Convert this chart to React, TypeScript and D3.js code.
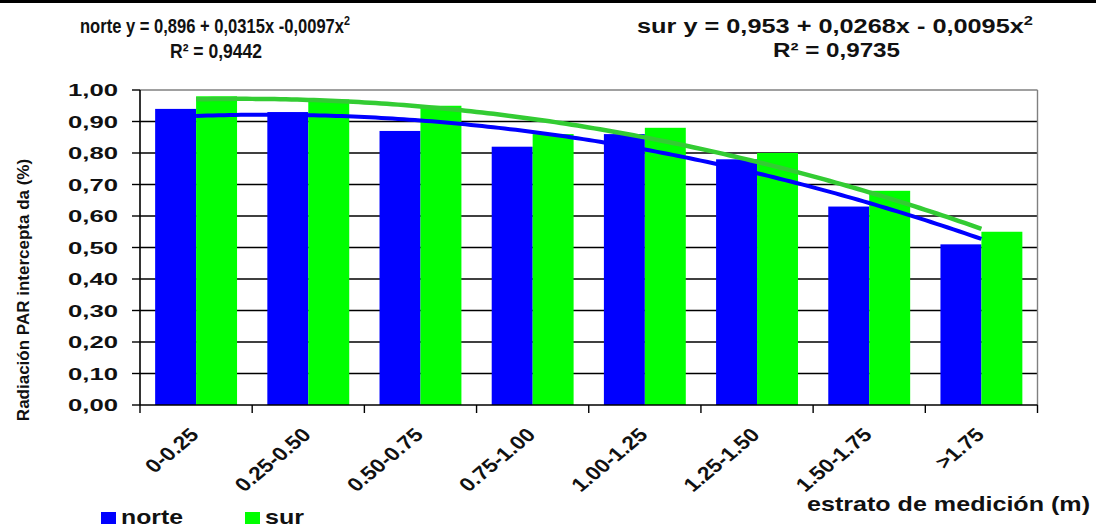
import React from "react";
import * as d3 from "d3";

const categories = ["0-0.25", "0.25-0.50", "0.50-0.75", "0.75-1.00", "1.00-1.25", "1.25-1.50", "1.50-1.75", ">1.75"];
const norte = [0.94, 0.93, 0.87, 0.82, 0.86, 0.78, 0.63, 0.51];
const sur = [0.98, 0.97, 0.95, 0.86, 0.88, 0.8, 0.68, 0.55];
const norteCoef = [0.896, 0.0315, -0.0097];
const surCoef = [0.953, 0.0268, -0.0095];
const yTicks = [0, 0.1, 0.2, 0.3, 0.4, 0.5, 0.6, 0.7, 0.8, 0.9, 1.0];
const seriesNames = ["norte", "sur"];
const seriesColors = ["#0000ff", "#00ff00"];
const trendColors = ["#0000ff", "#33cc33"];

const W = 1096;
const H = 527;
const L = 140;
const R = 1037.5;
const T = 90;
const B = 405;
const FONT = "Arial, 'Liberation Sans', sans-serif";

export default function App() {
  const x = d3.scaleBand<string>().domain(categories).range([L, R]).padding(0);
  const y = d3.scaleLinear().domain([0, 1]).range([B, T]);
  const bw = x.bandwidth();
  const barW = bw * 0.365;
  const groupOff = (bw - 2 * barW) / 2;

  const tPos = (t: number) => (x(categories[0]) as number) + bw / 2 + (t - 1) * bw;
  const ts = d3.range(1, categories.length + 0.0001, 0.05);
  const line = (c: number[]) =>
    d3
      .line<number>()
      .x((t) => tPos(t))
      .y((t) => y(c[0] + c[1] * t + c[2] * t * t))(ts) as string;

  const fmt = (v: number) => v.toFixed(2).replace(".", ",");

  return (
    <div style={{ position: "absolute", left: 0, top: 0 }}>
      <svg width={W} height={H} style={{ display: "block", background: "#fff" }}>
        <rect x={0} y={0} width={W} height={3} fill="#000" />

        {/* equations */}
        <text x={80} y={33} fontFamily={FONT} fontWeight="bold" fontSize={20} fill="#111" textLength={270} lengthAdjust="spacingAndGlyphs">
          norte y = 0,896 + 0,0315x -0,0097x<tspan fontSize={13} dy={-8}>2</tspan>
        </text>
        <text x={170} y={58} fontFamily={FONT} fontWeight="bold" fontSize={20} fill="#111" textLength={92} lengthAdjust="spacingAndGlyphs">
          R² = 0,9442
        </text>
        <text x={637} y={33} fontFamily={FONT} fontWeight="bold" fontSize={20} fill="#111" textLength={396} lengthAdjust="spacingAndGlyphs">
          sur y = 0,953 + 0,0268x - 0,0095x<tspan fontSize={13} dy={-8}>2</tspan>
        </text>
        <text x={773} y={57} fontFamily={FONT} fontWeight="bold" fontSize={20} fill="#111" textLength={127} lengthAdjust="spacingAndGlyphs">
          R² = 0,9735
        </text>

        {/* gridlines */}
        {yTicks.slice(1, -1).map((t) => (
          <line key={t} x1={L} x2={R} y1={y(t)} y2={y(t)} stroke="#000" strokeWidth={1.4} />
        ))}
        {/* plot border top/right */}
        <line x1={L} x2={R} y1={y(1)} y2={y(1)} stroke="#808080" strokeWidth={1.4} />
        <line x1={R} x2={R} y1={y(1)} y2={B} stroke="#808080" strokeWidth={1.4} />

        {/* bars */}
        {categories.map((c, i) => (
          <g key={c}>
            <rect x={(x(c) as number) + groupOff} y={y(norte[i])} width={barW} height={B - y(norte[i])} fill={seriesColors[0]} />
            <rect x={(x(c) as number) + groupOff + barW} y={y(sur[i])} width={barW} height={B - y(sur[i])} fill={seriesColors[1]} />
          </g>
        ))}

        {/* trend lines */}
        <path d={line(norteCoef)} fill="none" stroke={trendColors[0]} strokeWidth={4} />
        <path d={line(surCoef)} fill="none" stroke={trendColors[1]} strokeWidth={4.5} />

        {/* axes */}
        <line x1={L} x2={L} y1={T} y2={B} stroke="#000" strokeWidth={1.6} />
        <line x1={L} x2={R} y1={B} y2={B} stroke="#000" strokeWidth={1.6} />
        {yTicks.map((t) => (
          <g key={"yt" + t}>
            <line x1={L - 8} x2={L} y1={y(t)} y2={y(t)} stroke="#000" strokeWidth={1.4} />
            <text x={118} y={y(t) + 6} textAnchor="end" fontFamily={FONT} fontWeight="bold" fontSize={17} fill="#111" textLength={50} lengthAdjust="spacingAndGlyphs">
              {fmt(t)}
            </text>
          </g>
        ))}
        {d3.range(categories.length + 1).map((i) => {
          const xx = L + i * bw;
          return <line key={"xt" + i} x1={xx} x2={xx} y1={B} y2={B + 8} stroke="#000" strokeWidth={1.4} />;
        })}
        {categories.map((c) => {
          const cx = (x(c) as number) + bw / 2;
          return (
            <text
              key={"xl" + c}
              transform={`translate(${cx + 4},${436}) scale(1.2,1) rotate(-45)`}
              textAnchor="end"
              fontFamily={FONT}
              fontWeight="bold"
              fontSize={19}
              fill="#111"
            >
              {c}
            </text>
          );
        })}

        {/* axis titles */}
        <text
          transform={`translate(29,290) rotate(-90)`}
          textAnchor="middle"
          fontFamily={FONT}
          fontWeight="bold"
          fontSize={17}
          fill="#111"
        >
          Radiación PAR intercepta da (%)
        </text>
        <text x={807} y={511} fontFamily={FONT} fontWeight="bold" fontSize={21} fill="#111" textLength={283} lengthAdjust="spacingAndGlyphs">
          estrato de medición (m)
        </text>

        {/* legend */}
        {seriesNames.map((n, i) => {
          const lx = i === 0 ? 101 : 245;
          const tl = i === 0 ? 62 : 39;
          return (
            <g key={n}>
              <rect x={lx} y={512} width={15} height={12} fill={seriesColors[i]} />
              <text x={lx + 20} y={524} fontFamily={FONT} fontWeight="bold" fontSize={21} fill="#111" textLength={tl} lengthAdjust="spacingAndGlyphs">
                {n}
              </text>
            </g>
          );
        })}
      </svg>
    </div>
  );
}
